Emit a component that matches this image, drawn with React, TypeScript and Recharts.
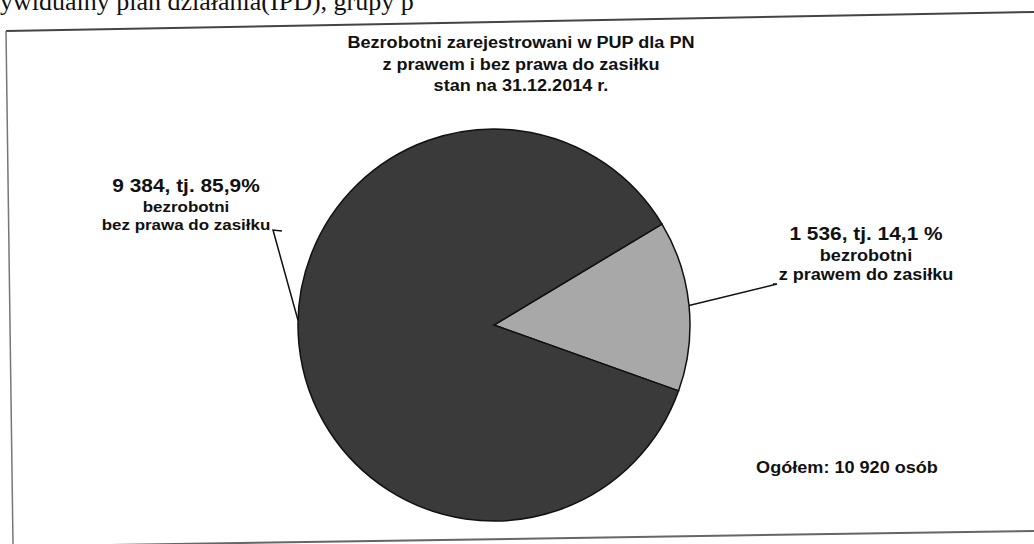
import React from 'react';
import { PieChart, Pie, Cell } from 'recharts';

// Scanned chart: registered unemployed, with / without benefit rights
const categories = ['bezrobotni z prawem do zasiłku', 'bezrobotni bez prawa do zasiłku'];
const values = [1536, 9384];
const valueLabels = ['1 536, tj. 14,1 %', '9 384, tj. 85,9%'];
const labelLine1 = ['bezrobotni', 'bezrobotni'];
const labelLine2 = ['z prawem do zasiłku', 'bez prawa do zasiłku'];
const titleLines = [
  'Bezrobotni zarejestrowani w PUP dla PN',
  'z prawem i bez prawa do zasiłku',
  'stan na 31.12.2014 r.',
];
const totalLabel = 'Ogółem: 10 920 osób';
const pageText = 'ywidualny plan działania(IPD), grupy p';

const COLORS = ['#a8a8a8', '#3a3a3a'];
const FONT = '"Liberation Sans", Arial, sans-serif';
const INK = '#111';
// the scan is a bit wider than tall, so text is stretched horizontally
const SX = 1.13;

const chartData = categories.map((name, i) => ({ name, value: values[i] }));

// label placement relative to the pie centre; angleShift moves the leader's foot on the rim
const LABEL_POS = [
  { dx: 372, y: [240, 261, 280], size: [18.5, 16, 16], angleShift: 0, elbow: [[279, -41], [283, -41]] },
  { dx: -308, y: [192, 212, 230], size: [18.5, 15, 15], angleShift: -7, elbow: [[-212, -94], [-221, -95]] },
];

const StretchText = ({ x, y, size, children }: any) => (
  <g transform={`translate(${x} ${y}) scale(${SX} 1)`}>
    <text
      x={0}
      y={0}
      textAnchor="middle"
      fontFamily={FONT}
      fontWeight="bold"
      fontSize={size}
      fill={INK}
    >
      {children}
    </text>
  </g>
);

const renderLabel = (props: any) => {
  const { cx, cy, midAngle, outerRadius, index } = props;
  const RAD = Math.PI / 180;
  const pos = LABEL_POS[index];
  const ang = midAngle + pos.angleShift;
  const ex = cx + outerRadius * Math.cos(-ang * RAD);
  const ey = cy + outerRadius * Math.sin(-ang * RAD);
  const pts = [[ex, ey], ...pos.elbow.slice().reverse().map(([a, b]) => [cx + a, cy + b])];
  const tx = cx + pos.dx;
  return (
    <g>
      <polyline
        points={pts.map((p) => p.join(',')).join(' ')}
        fill="none"
        stroke="#111"
        strokeWidth={1.5}
      />
      <StretchText x={tx} y={pos.y[0]} size={pos.size[0]}>{valueLabels[index]}</StretchText>
      <StretchText x={tx} y={pos.y[1]} size={pos.size[1]}>{labelLine1[index]}</StretchText>
      <StretchText x={tx} y={pos.y[2]} size={pos.size[2]}>{labelLine2[index]}</StretchText>
    </g>
  );
};

export default function App() {
  return (
    <div
      style={{
        position: 'absolute',
        left: 0,
        top: 0,
        width: 1034,
        height: 544,
        background: '#fff',
        overflow: 'hidden',
      }}
    >
      {/* page scan: frame around the chart and a cut-off line of text above it */}
      <svg width={1034} height={544} style={{ position: 'absolute', left: 0, top: 0 }}>
        <text x={0} y={10} fontFamily='"Liberation Serif", "Times New Roman", serif' fontSize={26} fill="#111">
          {pageText}
        </text>
        <line x1={6} y1={31} x2={1034} y2={12} stroke="#444" strokeWidth={2} />
        <line x1={6} y1={31} x2={13} y2={544} stroke="#777" strokeWidth={1.5} />
        <line x1={110} y1={545} x2={1034} y2={531} stroke="#666" strokeWidth={2} />
        {titleLines.map((t, i) => (
          <StretchText key={i} x={521} y={48 + i * 21.5} size={16}>{t}</StretchText>
        ))}
        <StretchText x={847} y={473} size={16}>{totalLabel}</StretchText>
      </svg>
      <div style={{ position: 'absolute', left: 0, top: 0 }}>
        <PieChart width={1034} height={544} margin={{ top: 0, right: 0, bottom: 0, left: 0 }}>
          <Pie
            data={chartData}
            dataKey="value"
            nameKey="name"
            cx={494}
            cy={325}
            outerRadius={196}
            startAngle={31}
            endAngle={-329}
            stroke="#111"
            strokeWidth={1.5}
            label={renderLabel}
            labelLine={false}
            isAnimationActive={false}
          >
            {chartData.map((entry, index) => (
              <Cell key={`cell-${index}`} fill={COLORS[index]} />
            ))}
          </Pie>
        </PieChart>
      </div>
    </div>
  );
}
